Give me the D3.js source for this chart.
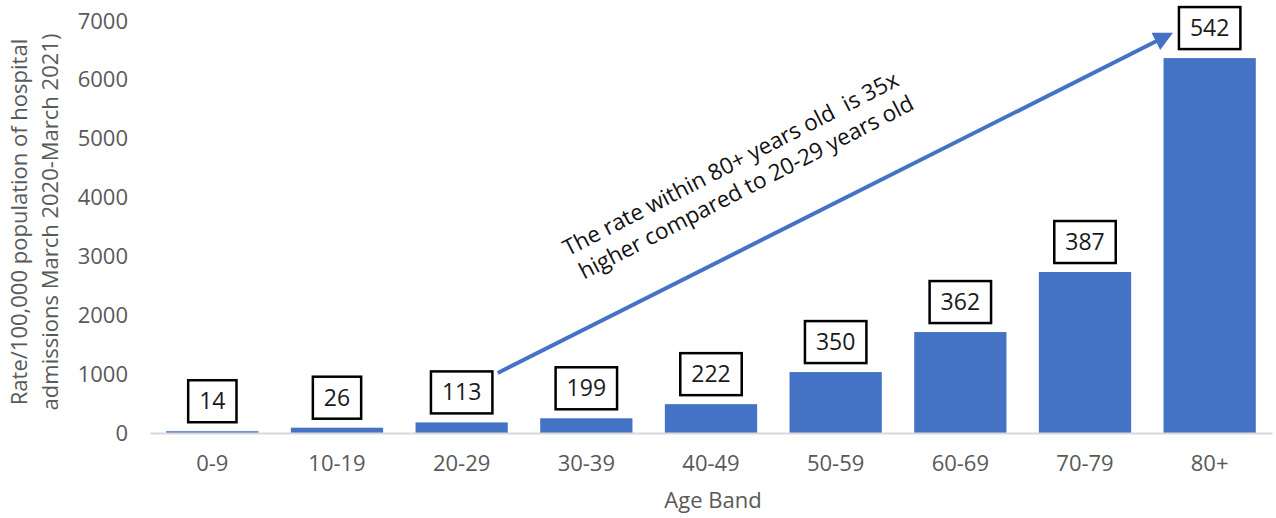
<!DOCTYPE html>
<html>
<head>
<meta charset="utf-8">
<script src="https://cdn.jsdelivr.net/npm/d3@7"></script>
<style>
  html, body { margin: 0; padding: 0; background: #fff; }
  svg { display: block; font-family: "Open Sans", sans-serif; }
</style>
</head>
<body>
<svg id="chart" width="1276" height="518"></svg>
<script>
// Age bands and rate of hospital admissions per 100,000 population
const categories = ["0-9", "10-19", "20-29", "30-39", "40-49", "50-59", "60-69", "70-79", "80+"];
const rates = [30, 90, 180, 250, 490, 1035, 1715, 2735, 6370];
// Boxed counts shown above each bar
const admissions = [14, 26, 113, 199, 222, 350, 362, 387, 542];
const yTicks = [0, 1000, 2000, 3000, 4000, 5000, 6000, 7000];
const yTitleLines = ["Rate/100,000 population of hospital", "admissions March 2020-March 2021)"];
const xTitle = "Age Band";
const noteLines = ["The rate within 80+ years old  is 35x", "higher compared to 20-29 years old"];

const svg = d3.select("#chart");
const barColor = "#4472C4";
const axisText = "#595959";

const x = d3.scaleBand()
  .domain(categories)
  .range([150, 1272])
  .paddingInner(0.26)
  .paddingOuter(0.13);

const y = d3.scaleLinear().domain([0, 7000]).range([433, 21]);

// Y axis: labels only
const yAxis = svg.append("g")
  .attr("transform", "translate(128,0)")
  .call(d3.axisLeft(y).tickValues(yTicks).tickSize(0).tickPadding(0).tickFormat(d3.format("d")));
yAxis.select(".domain").remove();
yAxis.selectAll("text")
  .attr("fill", axisText)
  .style("font-size", "22px")
  .style("font-family", "'Open Sans', sans-serif");

// Bars
svg.append("g").selectAll("rect")
  .data(categories)
  .join("rect")
  .attr("x", d => x(d))
  .attr("width", x.bandwidth())
  .attr("y", (d, i) => y(rates[i]))
  .attr("height", (d, i) => y(0) - y(rates[i]))
  .attr("fill", barColor);

// X axis baseline and labels
const xAxis = svg.append("g")
  .attr("transform", `translate(0,${y(0)})`)
  .call(d3.axisBottom(x).tickSize(0).tickPadding(22).tickSizeOuter(0));
xAxis.select(".domain")
  .attr("stroke", "#d9d9d9")
  .attr("stroke-width", 2);
xAxis.selectAll("text")
  .attr("fill", axisText)
  .style("font-size", "22px")
  .style("font-family", "'Open Sans', sans-serif");

// Boxed counts above bars
const labels = svg.append("g").selectAll("g")
  .data(categories)
  .join("g")
  .attr("transform", (d, i) => `translate(${x(d) + x.bandwidth() / 2},${y(rates[i]) - 9})`);

labels.each(function(d, i) {
  const g = d3.select(this);
  const rect = g.append("rect");
  const t = g.append("text")
    .attr("text-anchor", "middle")
    .attr("x", 0)
    .attr("y", -21)
    .attr("dy", "0.35em")
    .style("font-size", "23px")
    .attr("fill", "#1a1a1a")
    .text(admissions[i]);
  const w = t.node().getComputedTextLength() + 22;
  rect.attr("x", -w / 2)
    .attr("y", -42)
    .attr("width", w)
    .attr("height", 42)
    .attr("fill", "#fff")
    .attr("stroke", "#000")
    .attr("stroke-width", 2.5);
});

// Arrow from the 20-29 box up to the 80+ box
const defs = svg.append("defs");
defs.append("marker")
  .attr("id", "arrowhead")
  .attr("viewBox", "0 0 10 10")
  .attr("refX", 8)
  .attr("refY", 5)
  .attr("markerWidth", 4.8)
  .attr("markerHeight", 4.8)
  .attr("markerUnits", "strokeWidth")
  .attr("orient", "auto")
  .append("path")
  .attr("d", "M0,0 L10,5 L0,10 Z")
  .attr("fill", barColor);

const ax0 = x("20-29") + x.bandwidth() - 10, ay0 = y(1020);
const ax1 = x("80+") + 6, ay1 = y(6770);
svg.append("line")
  .attr("x1", ax0).attr("y1", ay0)
  .attr("x2", ax1).attr("y2", ay1)
  .attr("stroke", barColor)
  .attr("stroke-width", 4)
  .attr("marker-end", "url(#arrowhead)");

// Rotated annotation parallel to the arrow
const angle = Math.atan2(ay1 - ay0, ax1 - ax0) * 180 / Math.PI - 0.6;
const note = svg.append("text")
  .attr("transform", `translate(737,176) rotate(${angle})`)
  .attr("text-anchor", "middle")
  .attr("fill", "#111")
  .style("font-size", "22.5px")
  .style("white-space", "pre");
noteLines.forEach((line, i) => {
  note.append("tspan")
    .attr("x", i === 0 ? 0 : 3)
    .attr("y", i * 28 - 6)
    .text(line);
});

// Y axis title, two rotated lines
const yTitle = svg.append("text")
  .attr("transform", "translate(0,222) rotate(-90)")
  .attr("text-anchor", "middle")
  .attr("fill", axisText)
  .style("font-size", "22px");
yTitleLines.forEach((line, i) => {
  yTitle.append("tspan")
    .attr("x", 0)
    .attr("y", 27 + i * 31)
    .text(line);
});

// X axis title
svg.append("text")
  .attr("x", (x.range()[0] + x.range()[1]) / 2 + 2)
  .attr("y", 508)
  .attr("text-anchor", "middle")
  .attr("fill", axisText)
  .style("font-size", "22px")
  .text(xTitle);
</script>
</body>
</html>
